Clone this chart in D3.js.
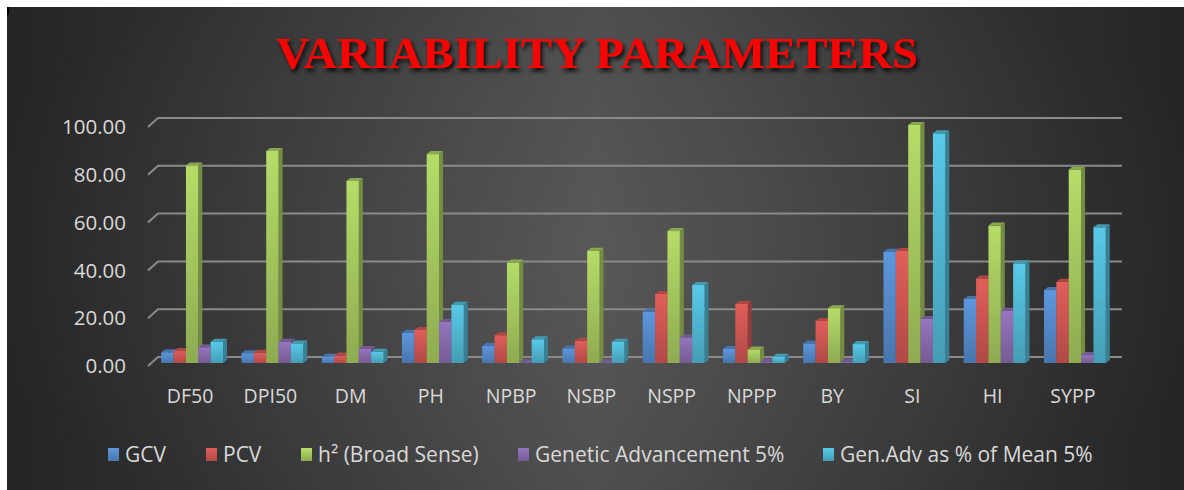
<!DOCTYPE html>
<html><head><meta charset="utf-8">
<script src="https://cdn.jsdelivr.net/npm/d3@7"></script>
<style>
html,body{margin:0;padding:0;background:#fff;}
svg{display:block;}
text{font-family:"Open Sans",sans-serif;}
</style></head>
<body>
<svg id="chart" width="1184" height="490"></svg>
<script>
const categories = ["DF50","DPI50","DM","PH","NPBP","NSBP","NSPP","NPPP","BY","SI","HI","SYPP"];
const seriesNames = ["GCV","PCV","h² (Broad Sense)","Genetic Advancement 5%","Gen.Adv as % of Mean 5%"];
const GCV = [4.5,4.1,2.6,12.7,7.2,6.1,21.5,5.9,8.2,46.6,26.8,30.5];
const PCV = [5.0,4.3,3.1,13.8,11.6,9.3,28.9,24.7,17.6,46.9,35.4,34.0];
const H2  = [82.6,88.7,76.2,87.4,42.0,47.0,55.2,5.7,22.9,99.6,57.5,81.0];
const GA  = [6.6,8.9,5.9,17.3,0.3,0.3,10.7,0.6,0.6,18.4,21.9,3.3];
const GAM = [8.9,8.2,4.7,24.4,9.9,8.9,32.6,2.6,7.9,96.1,41.7,56.8];
const yTicks = [0,20,40,60,80,100];
const colors = ["#4F81BD","#C0504D","#9BBB59","#8064A2","#4BACC6"];
const titleText = "VARIABILITY PARAMETERS";

const seriesValues = [GCV,PCV,H2,GA,GAM];

const svg = d3.select("#chart");
const defs = svg.append("defs");

// background
const bg = defs.append("linearGradient").attr("id","bg").attr("x1","0").attr("x2","1").attr("y1","0").attr("y2","0");
bg.append("stop").attr("offset","0%").attr("stop-color","#262626");
bg.append("stop").attr("offset","50%").attr("stop-color","#515151");
bg.append("stop").attr("offset","100%").attr("stop-color","#262626");
const bg2 = defs.append("radialGradient").attr("id","bg2").attr("cx","0.5").attr("cy","0.5").attr("r","0.6");
bg2.append("stop").attr("offset","0%").attr("stop-color","#ffffff").attr("stop-opacity",0.04);
bg2.append("stop").attr("offset","100%").attr("stop-color","#000000").attr("stop-opacity",0.06);

svg.append("rect").attr("x",7).attr("y",7).attr("width",1177).attr("height",483).attr("fill","url(#bg)");
svg.append("rect").attr("x",7).attr("y",7).attr("width",1177).attr("height",483).attr("fill","url(#bg2)");
svg.append("rect").attr("x",7).attr("y",7).attr("width",2).attr("height",8).attr("fill","#000");

// title shadow filter
const f = defs.append("filter").attr("id","shadow").attr("x","-10%").attr("y","-30%").attr("width","120%").attr("height","160%");
f.append("feDropShadow").attr("dx",2).attr("dy",3).attr("stdDeviation",2).attr("flood-color","#000").attr("flood-opacity",0.9);

svg.append("text").attr("x",597).attr("y",68).attr("text-anchor","middle")
  .style("font-family","'Liberation Serif','Times New Roman',serif")
  .attr("font-weight","bold").attr("font-size",45).attr("fill","#ff0000")
  .attr("textLength",642).attr("lengthAdjust","spacingAndGlyphs")
  .attr("filter","url(#shadow)").text(titleText);

// scales
const y = d3.scaleLinear().domain([0,100]).range([363,124]);
const x0 = d3.scaleBand().domain(categories).range([152,1115]).paddingInner(0.23).paddingOuter(0.115);
const x1 = d3.scaleBand().domain(d3.range(seriesNames.length)).range([0,x0.bandwidth()]);

// gradients per series
colors.forEach((c,i)=>{
  const g = defs.append("linearGradient").attr("id","g"+i).attr("x1","0").attr("x2","0").attr("y1","0").attr("y2","1");
  g.append("stop").attr("offset","0%").attr("stop-color",d3.color(c).brighter(0.45));
  g.append("stop").attr("offset","100%").attr("stop-color",d3.color(c).darker(0.25));
});

// gridlines
const gridG = svg.append("g");
yTicks.forEach(t=>{
  const yy = y(t);
  gridG.append("path")
    .attr("d",`M148,${yy+3}L158,${yy-6}L1122,${yy-6}`)
    .attr("fill","none").attr("stroke","#8a8a8a").attr("stroke-width",2);
});

// y labels
svg.append("g").selectAll("text").data(yTicks).join("text")
  .attr("x",126).attr("y",t=>y(t)+3).attr("dy","0.35em").attr("text-anchor","end")
  .attr("font-size",20.5).attr("fill","#d9d9d9").text(t=>t.toFixed(2));

// bars
const dx = 4, dy = -3;
const barsG = svg.append("g");
categories.forEach((cat,ci)=>{
  seriesValues.forEach((vals,si)=>{
    const v = vals[ci];
    const bx = x0(cat) + x1(si);
    const w = x1.bandwidth();
    const yt = y(v), yb = y(0);
    const c = d3.color(colors[si]);
    const g = barsG.append("g");
    g.append("path").attr("d",`M${bx+w},${yt}L${bx+w+dx},${yt+dy}L${bx+w+dx},${yb+dy}L${bx+w},${yb}Z`)
      .attr("fill",c.darker(0.8));
    g.append("rect").attr("x",bx).attr("y",yt).attr("width",w).attr("height",Math.max(0,yb-yt))
      .attr("fill",`url(#g${si})`);
    g.append("path").attr("d",`M${bx},${yt}L${bx+dx},${yt+dy}L${bx+w+dx},${yt+dy}L${bx+w},${yt}Z`)
      .attr("fill",c.darker(0.3));
  });
});

// category labels
svg.append("g").selectAll("text").data(categories).join("text")
  .attr("x",d=>x0(d)+x0.bandwidth()/2-2).attr("y",403).attr("text-anchor","middle")
  .attr("font-size",19.5).attr("fill","#d9d9d9").text(d=>d);

// legend
const legendX = [108,206,301,518,823];
const lg = svg.append("g");
seriesNames.forEach((n,i)=>{
  lg.append("rect").attr("x",legendX[i]).attr("y",448).attr("width",11).attr("height",13).attr("fill",`url(#g${i})`);
  lg.append("text").attr("x",legendX[i]+17).attr("y",462).attr("font-size",21).attr("fill","#d9d9d9").text(n);
});
</script>
</body></html>
